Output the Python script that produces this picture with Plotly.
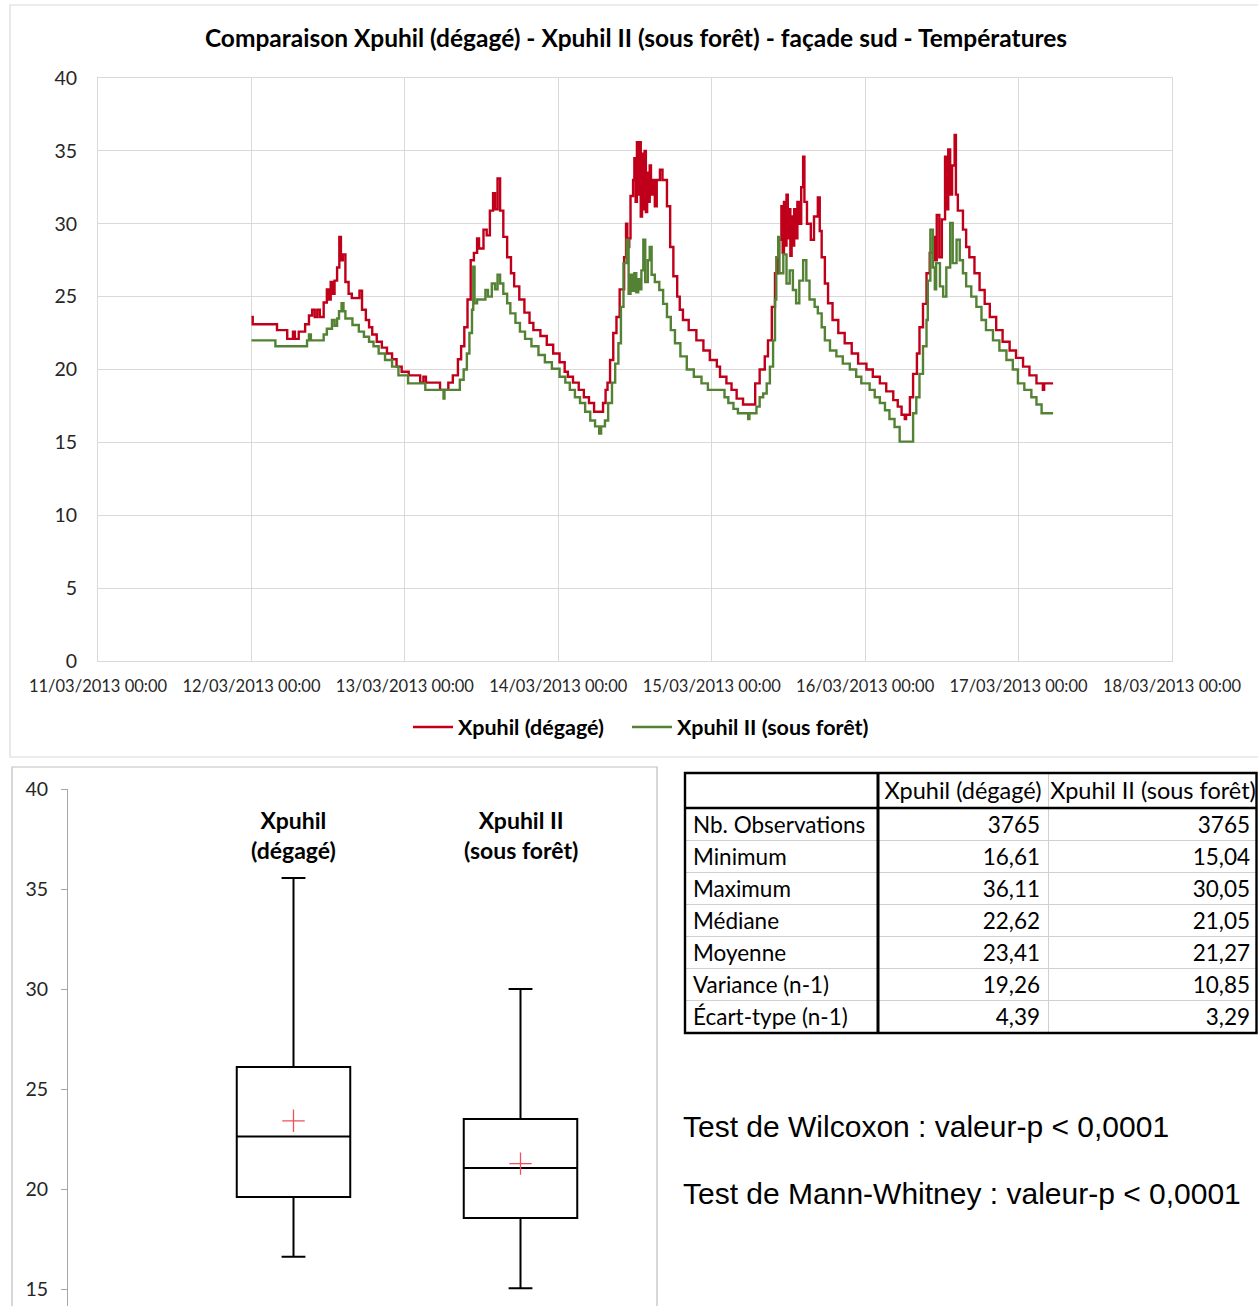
import plotly.graph_objects as go
import pandas as pd

W, H = 1258, 1306

# ---------------- data: time series (hours after 12/03/2013 00:00, °C) ----------------
START = "2013-03-12 00:00"

red_hours = [0.0, 0.2, 4.0, 5.6, 6.5, 6.8, 7.4, 8.4, 9.0, 9.5, 9.9, 10.3, 10.7, 11.3, 11.8, 12.1, 12.4, 12.7,
             13.0, 13.4, 13.75, 14.0, 14.3, 14.7, 15.2, 15.7, 16.9, 17.3, 17.9, 18.4, 18.9, 19.6, 20.4, 21.2,
             22.0, 22.7, 23.5, 24.6, 26.4, 26.9, 27.3, 29.5, 30.8, 31.5, 32.3, 32.8, 33.3, 33.8, 34.3, 34.8,
             35.3, 35.6, 36.3, 36.8, 37.3, 37.8, 38.1, 38.5, 38.9, 39.4, 40.0, 40.6, 41.1, 41.9, 42.7, 43.5,
             44.1, 45.2, 46.2, 47.2, 48.2, 49.0, 49.5, 50.3, 51.2, 52.0, 52.8, 53.6, 55.0, 55.4, 55.7, 56.1,
             56.6, 57.1, 57.6, 58.3, 58.6, 58.8, 59.1, 59.3, 59.7, 59.9, 60.1, 60.3, 60.5, 60.7, 60.9, 61.1,
             61.3, 61.5, 61.7, 61.9, 62.1, 62.3, 62.5, 62.8, 63.1, 63.4, 63.9, 64.3, 65.0, 65.5, 66.0, 66.6,
             67.0, 67.5, 68.4, 69.6, 70.7, 71.7, 72.8, 73.3, 74.3, 75.1, 75.9, 76.9, 78.8, 79.5, 80.3, 80.8,
             81.4, 81.9, 82.4, 82.9, 83.1, 83.3, 83.5, 83.7, 83.9, 84.1, 84.3, 84.5, 84.7, 84.9, 85.1, 85.4,
             85.7, 86.0, 86.3, 86.5, 86.9, 87.5, 88.0, 88.6, 88.9, 89.2, 89.7, 90.2, 90.9, 91.8, 92.8, 93.9,
             94.9, 96.2, 97.2, 98.3, 99.3, 100.4, 101.1, 101.7, 102.2, 102.4, 103.0, 103.5, 104.1, 104.5,
             105.05, 105.6, 106.1, 106.6, 106.9, 107.2, 107.6, 108.0, 108.5, 108.7, 109.0, 109.3, 109.6,
             110.0, 110.2, 110.5, 111.3, 111.8, 112.3, 113.1, 113.9, 114.7, 115.5, 116.5, 117.5, 118.6,
             119.6, 120.7, 121.7, 122.8, 123.8, 124.0, 125.4]
red_temp = [23.6, 23.1, 22.7, 22.1, 22.6, 22.1, 22.6, 23.1, 23.7, 24.1, 23.6, 24.1, 23.6, 24.6, 25.5, 24.8, 26.0, 25.2,
            26.1, 27.0, 29.1, 27.5, 27.9, 26.0, 25.2, 24.9, 25.4, 24.1, 23.4, 22.9, 22.4, 21.9, 21.5, 21.1,
            20.7, 20.2, 19.85, 19.6, 19.1, 19.5, 19.1, 18.6, 19.1, 19.6, 20.7, 21.6, 22.9, 24.8, 27.5, 28.0,
            29.0, 28.3, 29.6, 29.2, 30.9, 32.1, 31.0, 33.1, 30.9, 29.1, 27.7, 26.6, 25.7, 24.8, 23.9, 23.2,
            22.7, 22.3, 21.7, 21.1, 20.5, 19.85, 19.5, 19.1, 18.6, 18.1, 17.7, 17.1, 17.7, 18.6, 19.1, 20.65,
            22.5, 23.6, 25.5, 27.7, 30.0, 28.4, 29.0, 31.9, 33.0, 34.5, 31.5, 35.6, 32.0, 35.6, 30.5, 34.8,
            31.0, 35.0, 30.8, 33.5, 31.5, 34.0, 32.0, 33.0, 31.2, 33.0, 33.7, 33.0, 31.2, 28.4, 26.4, 25.0,
            24.1, 23.4, 22.7, 22.0, 21.3, 20.65, 20.2, 19.5, 19.05, 18.6, 18.0, 17.6, 19.05, 20.0, 20.9, 22.0,
            24.3, 26.6, 28.9, 31.2, 28.0, 31.5, 28.5, 32.0, 29.0, 31.0, 27.8, 30.5, 28.5, 31.0, 29.0, 31.5,
            30.0, 32.5, 34.6, 31.5, 30.0, 28.9, 30.5, 31.8, 29.5, 27.7, 25.9, 24.55, 23.4, 22.5, 21.8, 21.1,
            20.4, 20.0, 19.5, 19.05, 18.5, 17.9, 17.45, 16.9, 16.6, 16.9, 18.1, 19.7, 21.1, 22.9,
            24.5, 26.6, 28.0, 29.1, 27.5, 30.6, 27.7, 30.3, 34.6, 31.0, 35.1, 32.0, 34.0,
            36.1, 32.0, 30.9, 29.6, 28.4, 27.7, 26.6, 25.45, 24.5, 23.6, 22.7, 21.9, 21.3,
            20.8, 20.2, 19.6, 19.05, 18.6, 19.05, 19.05]

green_hours = [0.0, 3.75, 8.7, 9.0, 9.3, 11.3, 11.8, 12.6, 13.0, 13.4, 13.7, 14.1, 14.4, 14.7, 15.8, 16.8, 17.6,
               18.4, 19.1, 19.9, 20.9, 22.0, 23.0, 24.5, 27.2, 30.05, 30.2, 32.6, 33.2, 33.7, 34.1, 34.5, 34.7,
               34.9, 35.3, 36.6, 37.0, 37.6, 38.1, 38.5, 38.9, 39.4, 40.0, 40.5, 41.3, 42.0, 42.8, 43.8, 44.9,
               45.9, 47.0, 48.2, 49.1, 49.8, 50.6, 51.4, 52.2, 53.0, 53.75, 54.4, 54.7, 55.3, 55.8, 56.4, 56.9,
               57.4, 57.8, 58.2, 58.7, 59.0, 59.3, 59.6, 59.9, 60.2, 60.5, 60.8, 61.0, 61.3, 61.6, 62.0, 62.3,
               62.6, 63.1, 63.8, 64.4, 65.0, 65.6, 66.25, 67.1, 68.1, 69.2, 70.4, 71.4, 74.0, 74.6, 75.4, 76.1,
               77.7, 77.9, 79.0, 79.5, 80.05, 80.6, 81.1, 81.6, 81.9, 82.1, 82.4, 82.6, 83.2, 83.7, 84.2, 84.7,
               85.2, 85.7, 86.3, 86.8, 87.3, 88.1, 88.6, 89.2, 89.7, 90.5, 91.5, 92.5, 93.6, 94.6, 95.4, 96.7,
               97.5, 98.3, 99.1, 99.8, 100.6, 101.4, 103.5, 104.0, 104.5, 105.05, 105.6, 105.8, 106.2, 106.6,
               106.9, 107.1, 107.7, 108.2, 108.7, 109.3, 109.7, 110.3, 110.8, 111.3, 111.8, 112.6, 113.4, 114.2,
               114.9, 116.0, 117.0, 118.1, 119.1, 119.9, 120.9, 122.0, 122.8, 123.6, 125.4]
green_temp = [22.0, 21.6, 22.0, 22.4, 22.0, 22.4, 22.8, 23.4, 23.0, 23.5, 24.0, 24.55, 24.0, 23.5, 23.05, 22.6, 22.25,
              21.9, 21.6, 21.1, 20.65, 20.2, 19.6, 19.05, 18.6, 18.0, 18.6, 19.3, 20.0, 21.1, 22.5, 24.1, 27.05,
              24.55, 24.8, 25.45, 25.0, 25.9, 25.5, 26.5, 25.9, 25.2, 24.55, 23.85, 23.2, 22.6, 22.1, 21.6, 21.0,
              20.5, 20.05, 19.5, 19.1, 18.6, 18.1, 17.7, 17.1, 16.5, 16.1, 15.6, 16.1, 16.5, 17.7, 19.1, 20.4,
              21.8, 24.3, 27.3, 28.9, 25.2, 26.5, 25.4, 26.6, 25.3, 26.2, 25.5, 26.8, 28.9, 26.0, 27.5, 28.4,
              26.5, 26.0, 25.45, 24.5, 23.6, 22.7, 21.8, 20.9, 20.0, 19.5, 19.05, 18.6, 18.1, 17.7, 17.3, 17.0,
              16.6, 17.0, 17.45, 18.1, 18.35, 19.05, 20.2, 22.0, 24.8, 27.7, 29.1, 26.6, 27.9, 25.9, 26.8, 25.45,
              24.55, 26.1, 27.5, 26.1, 24.8, 24.3, 23.85, 22.9, 22.0, 21.3, 20.9, 20.4, 20.0, 19.5, 19.05, 18.6,
              18.1, 17.7, 17.2, 16.6, 16.05, 15.05, 17.0, 18.1, 19.7, 21.6, 23.4, 26.1, 29.6, 27.0,
              25.5, 27.3, 25.7, 25.0, 27.0, 30.05, 27.3, 28.9, 27.5, 26.6, 25.7, 25.0, 24.3, 23.4,
              22.7, 22.0, 21.3, 20.65, 20.0, 19.05, 18.6, 18.1, 17.6, 17.0, 17.0]

series_names = ["Xpuhil (dégagé)", "Xpuhil II (sous forêt)"]
series_colors = ["#C0001A", "#548235"]

x_range = ["2013-03-11 00:00", "2013-03-18 00:00"]
y_ticks_top = [0, 5, 10, 15, 20, 25, 30, 35, 40]

# ---------------- data: box plot ----------------
box_labels = ["Xpuhil<br>(dégagé)", "Xpuhil II<br>(sous forêt)"]
box_pos = [0, 1]
box_q1 = [19.6, 18.55]
box_median = [22.62, 21.05]
box_q3 = [26.1, 23.5]
box_low = [16.61, 15.04]
box_high = [35.55, 30.0]
box_mean = [23.41, 21.27]
box_ticks = [15, 20, 25, 30, 35, 40]

# ---------------- data: table ----------------
table_header = ["", "Xpuhil (dégagé)", "Xpuhil II (sous forêt)"]
stat_labels = ["Nb. Observations", "Minimum", "Maximum", "Médiane", "Moyenne", "Variance (n-1)", "Écart-type (n-1)"]
stat_degage = ["3765", "16,61", "36,11", "22,62", "23,41", "19,26", "4,39"]
stat_foret = ["3765", "15,04", "30,05", "21,05", "21,27", "10,85", "3,29"]

test_lines = ["Test de Wilcoxon : valeur-p < 0,0001", "Test de Mann-Whitney : valeur-p < 0,0001"]

title_text = "Comparaison Xpuhil (dégagé) - Xpuhil II (sous forêt) - façade sud - Températures"


def PX(x):
    return x / W


def PY(y):
    return 1 - y / H


def nowrap(items):
    return [s.replace(" ", "\u00a0") for s in items]


start = pd.Timestamp(START)
red_t = [start + pd.Timedelta(hours=h) for h in red_hours]
green_t = [start + pd.Timedelta(hours=h) for h in green_hours]

FONT = "Lato"
fig = go.Figure()

for t, v, name, col, lg in [(red_t, red_temp, series_names[0], series_colors[0], "legend"),
                            (green_t, green_temp, series_names[1], series_colors[1], "legend2")]:
    fig.add_trace(go.Scatter(x=t, y=v, mode="lines", name=name, line=dict(color=col, width=2.4, shape="hv"),
                             xaxis="x", yaxis="y", showlegend=True, legend=lg))

# box plot
fig.add_trace(go.Box(x=box_pos, q1=box_q1, median=box_median, q3=box_q3, lowerfence=box_low,
                     upperfence=box_high, width=0.5, whiskerwidth=0.21, fillcolor="white",
                     line=dict(color="black", width=2), boxpoints=False, xaxis="x2", yaxis="y2",
                     showlegend=False, hoverinfo="skip"))
fig.add_trace(go.Scatter(x=box_pos, y=box_mean, mode="markers", xaxis="x2", yaxis="y2", showlegend=False,
                         marker=dict(symbol="cross-thin", size=16, line=dict(color="#F0505A", width=1.3))))

# table
fig.add_trace(go.Table(
    domain=dict(x=[PX(685), 1.0], y=[PY(1033), PY(773)]),
    columnwidth=[193, 170, 210],
    header=dict(values=nowrap(table_header), height=35, align=["left", "center", "center"],
                font=dict(family=FONT, size=23.5, color="black"),
                fill_color="rgba(0,0,0,0)", line=dict(color="#d0d0d0", width=1)),
    cells=dict(values=[nowrap(stat_labels), stat_degage, stat_foret], height=32,
               align=["left", "right", "right"], font=dict(family=FONT, size=22.5, color="black"),
               fill_color="rgba(0,0,0,0)", line=dict(color="#d0d0d0", width=1)),
))

shapes = [
    dict(type="rect", xref="paper", yref="paper", x0=PX(10), x1=PX(1262), y0=PY(757), y1=PY(5),
         line=dict(color="#d9d9d9", width=1.2), layer="below"),
    dict(type="rect", xref="paper", yref="paper", x0=PX(12), x1=PX(657), y0=PY(1310), y1=PY(767),
         line=dict(color="#bfbfbf", width=1.2), layer="below"),
    dict(type="rect", xref="paper", yref="paper", x0=PX(685), x1=PX(1256.5), y0=PY(1033), y1=PY(773),
         line=dict(color="black", width=2.4), layer="above"),
    dict(type="line", xref="paper", yref="paper", x0=PX(878), x1=PX(878), y0=PY(1033), y1=PY(773),
         line=dict(color="black", width=3), layer="above"),
    dict(type="line", xref="paper", yref="paper", x0=PX(685), x1=PX(1256.5), y0=PY(808), y1=PY(808),
         line=dict(color="black", width=2.4), layer="above"),
]

annotations = [
    dict(text="<b>%s</b>" % box_labels[i], x=box_pos[i], y=37.7, xref="x2", yref="y2", showarrow=False,
         font=dict(family=FONT, size=23, color="black"), align="center", yanchor="middle")
    for i in range(2)
]
for i, line in enumerate(test_lines):
    annotations.append(dict(text=line, x=PX(681), y=PY(1126 + 67 * i), xref="paper", yref="paper",
                            xanchor="left", yanchor="middle", showarrow=False,
                            font=dict(family="Liberation Sans", size=30, color="black")))

legend_style = dict(orientation="h", yanchor="middle", y=PY(727), xanchor="left",
                    font=dict(family=FONT, size=21.5, color="black", weight="bold"),
                    bgcolor="rgba(0,0,0,0)", itemwidth=40, tracegroupgap=0, borderwidth=0)

fig.update_layout(
    template="none",
    autosize=False,
    width=W, height=H, margin=dict(l=0, r=0, t=0, b=0, pad=0, autoexpand=False),
    paper_bgcolor="white", plot_bgcolor="white",
    font=dict(family=FONT, color="#262626"),
    title=dict(text="<b>%s</b>" % title_text, x=PX(636), xanchor="center", y=PY(38), yanchor="middle",
               xref="paper", yref="paper", font=dict(family=FONT, size=24.5, color="black"), automargin=False),
    xaxis=dict(domain=[PX(98), PX(1172)], type="date", range=x_range, dtick=86400000,
               tick0=x_range[0], tickformat="%d/%m/%Y %H:%M", showgrid=True, gridcolor="#d9d9d9",
               gridwidth=1, showline=True, linecolor="#d9d9d9", linewidth=1, mirror=True, ticks="",
               tickangle=0, tickfont=dict(family=FONT, size=16.5, color="#262626"), ticklabelstandoff=10,
               anchor="y", zeroline=False, automargin=False),
    yaxis=dict(domain=[PY(661), PY(78)], range=[0, 40], tickvals=y_ticks_top, showgrid=True,
               gridcolor="#d9d9d9", gridwidth=1, showline=True, linecolor="#d9d9d9", linewidth=1,
               mirror=True, zeroline=False, ticks="",
               tickfont=dict(family=FONT, size=19.5, color="#262626"), ticklabelstandoff=16, anchor="x",
               automargin=False),
    xaxis2=dict(domain=[PX(68), PX(657)], range=[(68 - 293.5) / 227, (657 - 293.5) / 227],
                visible=False, anchor="y2", automargin=False),
    yaxis2=dict(domain=[0, PY(789)], range=[15 - 17 / 20, 40], tickvals=box_ticks, showgrid=False,
                zeroline=False, showline=True, linecolor="#a6a6a6", linewidth=1.2, ticks="outside",
                ticklen=6, tickcolor="#a6a6a6", tickwidth=1.2,
                tickfont=dict(family=FONT, size=19.5, color="#262626"), ticklabelstandoff=9, anchor="x2",
                automargin=False),
    yaxis3=dict(overlaying="y2", range=[15 - 17 / 20, 40], tickvals=box_ticks, showgrid=False,
                zeroline=False, showline=False, ticks="inside", ticklen=6, tickcolor="#a6a6a6", tickwidth=1.2,
                showticklabels=False, anchor="x2", side="left", automargin=False),
    legend=dict(legend_style, x=PX(408)),
    legend2=dict(legend_style, x=PX(627)),
    shapes=shapes,
    annotations=annotations,
)

fig.write_html("out.html", post_script="document.body.style.margin='0px';",
               config={"displayModeBar": False})
